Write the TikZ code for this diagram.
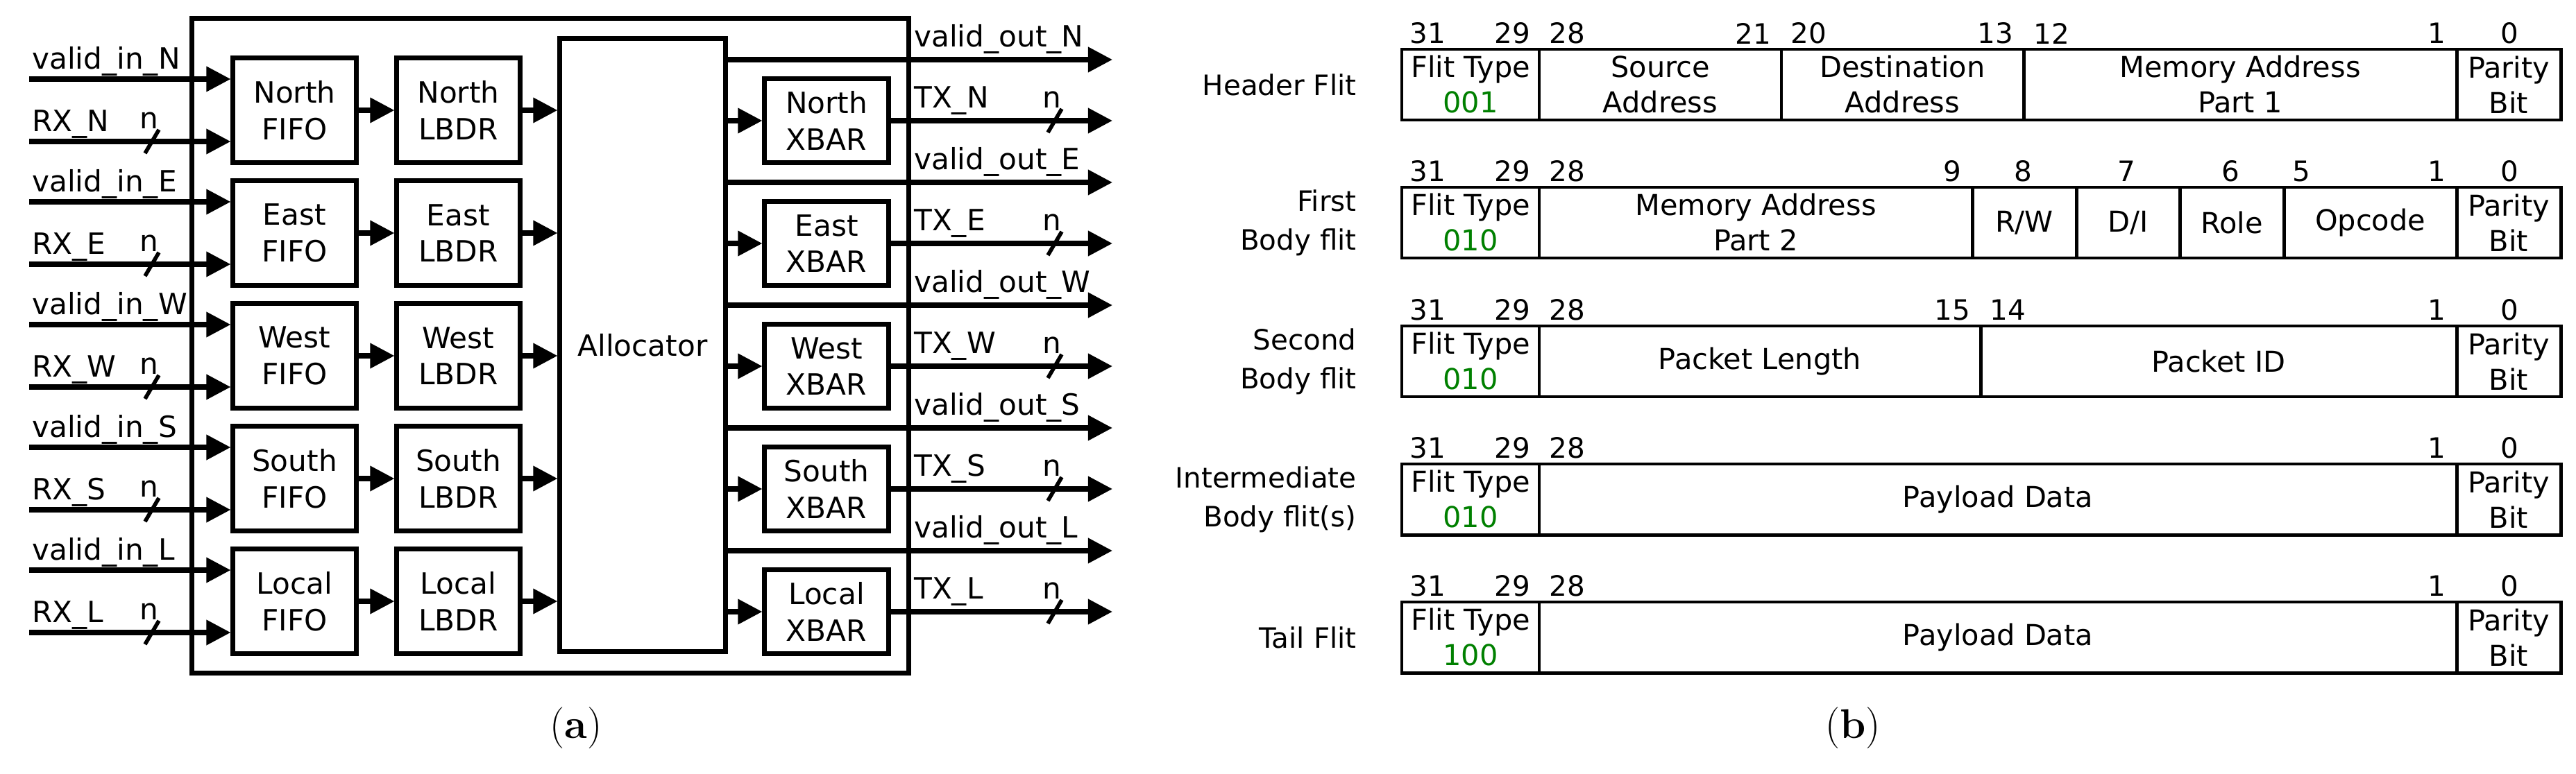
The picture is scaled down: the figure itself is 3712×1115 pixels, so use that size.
\documentclass[tikz,border=0pt]{standalone}
\usepackage{fontspec}
\setsansfont{DejaVu Sans}
\usetikzlibrary{arrows.meta}
\definecolor{fgreen}{RGB}{0,128,0}
\begin{document}
\begin{tikzpicture}[x=0.01cm,y=-0.01cm,font=\sffamily\fontsize{12}{15}\selectfont,
  blk/.style={draw,line width=2pt,align=center,inner sep=0pt},
  arr/.style={line width=2pt,-{Triangle[length=10pt,width=10pt]}},
  sl/.style={line width=1.6pt},
  lab/.style={anchor=south west,inner sep=1pt},
  fld/.style={draw,line width=1.4pt,align=center,inner sep=0pt,minimum height=1.02cm,font=\sffamily\fontsize{11.8}{14.5}\selectfont},
  bit/.style={font=\sffamily\fontsize{11.5}{13}\selectfont,inner sep=0pt},
  rlab/.style={anchor=east,align=right,font=\sffamily\fontsize{11.5}{16}\selectfont}]
\useasboundingbox (0,0) rectangle (3712,1115);
% ---------- (a) ----------
\node[draw,line width=2pt,minimum width=10.32cm,minimum height=9.43cm,inner sep=0pt] (outer) at (793,498.5) {};
\node[blk,minimum width=2.38cm,minimum height=8.83cm] (alloc) at (926,497.5) {Allocator};
\foreach \s/\n [count=\k from 0] in {N/North,E/East,W/West,S/South,L/Local}{
  \pgfmathsetmacro{\yt}{84+177*\k}
  \node[blk,minimum width=1.77cm,minimum height=1.5cm] (fifo\s) at (424.5,\yt+75) {\n\\FIFO};
  \node[blk,minimum width=1.77cm,minimum height=1.5cm] (lbdr\s) at (660.5,\yt+75) {\n\\LBDR};
  \node[blk,minimum width=1.78cm,minimum height=1.2cm] (xbar\s) at (1191,\yt+90) {\n\\XBAR};
  \coordinate (vin\s) at (42,\yt+30);
  \coordinate (rx\s) at (42,\yt+120);
  \coordinate (vout\s) at (1603,\yt+2);
  \coordinate (tx\s) at (1603,\yt+90);
  \draw[arr] (vin\s) -- (fifo\s.west |- vin\s);
  \draw[arr] (rx\s) -- (fifo\s.west |- rx\s);
  \node[lab] at (vin\s) {valid\_in\_\s};
  \node[lab] at (rx\s) {RX\_\s};
  \draw[sl] ([xshift=-0.1cm,yshift=-0.17cm]rx\s -| 219,0) -- ([xshift=0.1cm,yshift=0.17cm]rx\s -| 219,0);
  \node[inner sep=0pt] at (215,\yt+90) {n};
  \draw[arr] (fifo\s) -- (lbdr\s);
  \draw[arr] (lbdr\s) -- (alloc.west |- lbdr\s);
  \draw[arr] (alloc.east |- xbar\s) -- (xbar\s);
  \draw[arr] (alloc.east |- vout\s) -- (vout\s);
  \draw[arr] (xbar\s) -- (tx\s);
  \node[lab] at (1313,\yt-2) {valid\_out\_\s};
  \node[lab] at (1313,\yt+86) {TX\_\s};
  \draw[sl] ([xshift=-0.1cm,yshift=-0.17cm]tx\s -| 1520,0) -- ([xshift=0.1cm,yshift=0.17cm]tx\s -| 1520,0);
  \node[inner sep=0pt] at (1516,\yt+60) {n};
}
\node[font=\rmfamily\fontsize{17}{20}\selectfont] (capa) at (830,1050) {(\textbf{a})};
% ---------- (b) ----------
\newcommand\fld[5]{\node[fld,minimum width={(#3-#2)*0.01cm}] (#1) at ({(#2+#3)/2},#4+51) {#5};}
\newcommand\ft[1]{Flit Type\\\textcolor{fgreen}{#1}}
\fld{h1}{2020}{2218}{71}{\ft{001}}
\fld{h2}{2218}{2567}{71}{Source\\Address}
\fld{h3}{2567}{2916}{71}{Destination\\Address}
\fld{h4}{2916}{3540}{71}{Memory Address\\Part 1}
\fld{h5}{3540}{3690}{71}{Parity\\Bit}
\fld{f1}{2020}{2218}{270}{\ft{010}}
\fld{f2}{2218}{2842}{270}{Memory Address\\Part 2}
\fld{f3}{2842}{2992}{270}{R/W}
\fld{f4}{2992}{3141}{270}{D/I}
\fld{f5}{3141}{3291}{270}{Role}
\fld{f6}{3291}{3540}{270}{Opcode}
\fld{f7}{3540}{3690}{270}{Parity\\Bit}
\fld{s1}{2020}{2218}{470}{\ft{010}}
\fld{s2}{2218}{2854}{470}{Packet Length}
\fld{s3}{2854}{3540}{470}{Packet ID}
\fld{s4}{3540}{3690}{470}{Parity\\Bit}
\fld{i1}{2020}{2218}{669}{\ft{010}}
\fld{i2}{2218}{3540}{669}{Payload Data}
\fld{i3}{3540}{3690}{669}{Parity\\Bit}
\fld{t1}{2020}{2218}{868}{\ft{100}}
\fld{t2}{2218}{3540}{868}{Payload Data}
\fld{t3}{3540}{3690}{868}{Parity\\Bit}
\node[rlab] (lh) at (1967,122) {Header Flit};
\node[rlab] (lf) at (1967,321) {First\\Body flit};
\node[rlab] (ls) at (1967,521) {Second\\Body flit};
\node[rlab] (li) at (1967,720) {Intermediate\\Body flit(s)};
\node[rlab] (lt) at (1967,919) {Tail Flit};
\foreach \x/\t in {2057/31,2179/29,2258/28,2526/21,2606/20,2875/13,2956/12,3511/1,3616/0}
  \node[bit] at (\x,48) {\t};
\foreach \x/\t in {2057/31,2179/29,2258/28,2813/9,2915/8,3064/7,3214/6,3316/5,3511/1,3616/0}
  \node[bit] at (\x,247) {\t};
\foreach \x/\t in {2057/31,2179/29,2258/28,2813/15,2893/14,3511/1,3616/0}
  \node[bit] at (\x,447) {\t};
\foreach \x/\t in {2057/31,2179/29,2258/28,3511/1,3616/0}
  \node[bit] at (\x,646) {\t};
\foreach \x/\t in {2057/31,2179/29,2258/28,3511/1,3616/0}
  \node[bit] at (\x,845) {\t};
\node[font=\rmfamily\fontsize{17}{20}\selectfont] (capb) at (2670,1050) {(\textbf{b})};
\end{tikzpicture}
\end{document}
